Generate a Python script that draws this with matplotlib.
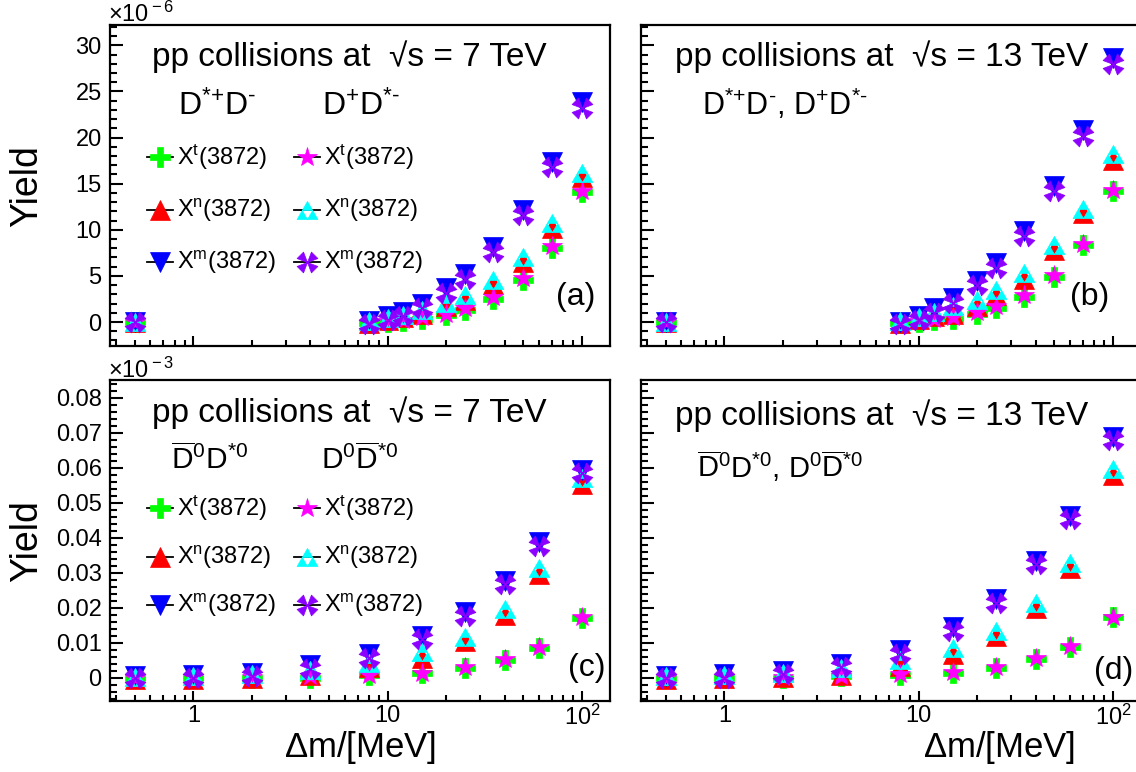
import numpy as np
import matplotlib
matplotlib.use('Agg')
import matplotlib.pyplot as plt
from matplotlib.path import Path
from matplotlib.lines import Line2D
from matplotlib.ticker import FixedLocator, FixedFormatter, NullFormatter, LogLocator, MultipleLocator

plt.rcParams['font.family'] = ['Liberation Sans', 'DejaVu Sans']
plt.rcParams['mathtext.fontset'] = 'custom'
plt.rcParams['mathtext.rm'] = 'Liberation Sans'
plt.rcParams['mathtext.it'] = 'Liberation Sans:italic'
plt.rcParams['mathtext.bf'] = 'Liberation Sans:bold'

# ---------------- data ----------------
x_top = [0.5, 8, 10, 12, 15, 20, 25, 35, 50, 70, 100]
x_bot = [0.5, 1, 2, 4, 8, 15, 25, 40, 60, 100]

# (a) 7 TeV, D*+D- / D+D*-   (units of 1e-6)
a_xt_1 = [0, -0.1, 0.0, 0.1, 0.3, 0.8, 1.3, 2.5, 4.6, 8.0, 14.1]
a_xn_1 = [0, -0.1, 0.2, 0.5, 0.9, 1.7, 2.4, 4.1, 6.5, 10.2, 15.7]
a_xm_1 = [0, 0.1, 0.6, 1.1, 2.0, 3.7, 5.2, 8.1, 12.1, 17.3, 23.8]
a_xt_2 = [0, 0.0, 0.1, 0.2, 0.5, 0.9, 1.5, 2.7, 4.8, 8.2, 14.2]
a_xn_2 = [0, 0.1, 0.4, 0.8, 1.3, 2.1, 2.9, 4.6, 7.0, 10.7, 16.2]
a_xm_2 = [0, -0.2, 0.2, 0.7, 1.5, 3.2, 4.7, 7.6, 11.6, 16.8, 23.2]

# (b) 13 TeV, D*+D- / D+D*-  (units of 1e-6)
b_xt_1 = [0, -0.1, 0.0, 0.2, 0.3, 0.9, 1.5, 2.7, 4.9, 8.3, 14.2]
b_xn_1 = [0, -0.1, 0.3, 0.6, 0.9, 1.7, 2.9, 4.7, 7.8, 11.8, 17.6]
b_xm_1 = [0, 0.0, 0.7, 1.5, 2.6, 4.5, 6.4, 9.9, 14.8, 20.8, 28.6]
b_xt_2 = [0, 0.0, 0.1, 0.3, 0.5, 1.1, 1.7, 2.9, 5.1, 8.5, 14.3]
b_xn_2 = [0, 0.1, 0.5, 1.1, 1.7, 2.4, 3.5, 5.3, 8.3, 12.3, 18.2]
b_xm_2 = [0, -0.2, 0.2, 1.0, 2.1, 4.0, 5.9, 9.3, 14.2, 20.2, 28.0]

# (c) 7 TeV, D0bar D*0 / D0 D*0bar  (units of 1e-3)
c_xt_1 = [0.0, 0.0, -0.0002, 0.0, 0.0006, 0.0012, 0.0027, 0.0050, 0.0085, 0.0170]
c_xn_1 = [-0.0003, -0.0003, 0.0, 0.0008, 0.0030, 0.0055, 0.0103, 0.0180, 0.0297, 0.0553]
c_xm_1 = [0.0005, 0.0008, 0.0014, 0.0035, 0.0066, 0.0119, 0.0186, 0.0277, 0.0386, 0.0592]
c_xt_2 = [0.0, 0.0001, 0.0001, 0.0004, 0.0007, 0.0014, 0.0030, 0.0052, 0.0088, 0.0173]
c_xn_2 = [0.0002, 0.0003, 0.0010, 0.0022, 0.0042, 0.0072, 0.0117, 0.0195, 0.0312, 0.0570]
c_xm_2 = [0.0, 0.0, 0.0005, 0.0025, 0.0056, 0.0109, 0.0176, 0.0267, 0.0376, 0.0584]

# (d) 13 TeV, D0bar D*0 / D0 D*0bar  (units of 1e-3)
d_xt_1 = [0.0, 0.0, 0.0, 0.0003, 0.0008, 0.0013, 0.0028, 0.0053, 0.0088, 0.0172]
d_xn_1 = [-0.0003, -0.0002, 0.0002, 0.0007, 0.0033, 0.0068, 0.0120, 0.0200, 0.0312, 0.0578]
d_xm_1 = [0.0005, 0.0010, 0.0019, 0.0040, 0.0078, 0.0143, 0.0224, 0.0333, 0.0462, 0.0688]
d_xt_2 = [0.0, 0.0001, 0.0001, 0.0004, 0.0009, 0.0015, 0.0030, 0.0055, 0.0091, 0.0174]
d_xn_2 = [0.0003, 0.0006, 0.0014, 0.0028, 0.0050, 0.0083, 0.0134, 0.0214, 0.0328, 0.0596]
d_xm_2 = [0.0, 0.0, 0.0009, 0.0030, 0.0068, 0.0133, 0.0214, 0.0323, 0.0452, 0.0678]

series_labels = [r'X$^{\rm t}$(3872)', r'X$^{\rm n}$(3872)', r'X$^{\rm m}$(3872)']
x_ticklabels = ['1', '10', r'10$^{\rm 2}$']
y_top_ticks = [0, 5, 10, 15, 20, 25, 30]
y_bot_ticks = [0, 0.01, 0.02, 0.03, 0.04, 0.05, 0.06, 0.07, 0.08]

# ---------------- markers ----------------
h = np.sqrt(3) / 2
tri3_verts = [(-1, -h), (0, -h), (-0.5, 0), (-1, -h),
              (0, -h), (1, -h), (0.5, 0), (0, -h),
              (-0.5, 0), (0.5, 0), (0, h), (-0.5, 0)]
tri3_codes = [Path.MOVETO, Path.LINETO, Path.LINETO, Path.CLOSEPOLY] * 3
m_tri3 = Path(tri3_verts, tri3_codes)

fx_verts, fx_codes = [], []
for ang in [45, 135, 225, 315]:
    t = np.deg2rad(ang)
    d = np.array([np.cos(t), np.sin(t)])
    p = np.array([-np.sin(t), np.cos(t)])
    b1 = d * 1.0 + p * 0.45
    b2 = d * 1.0 - p * 0.45
    fx_verts += [(0, 0), tuple(b1), tuple(b2), (0, 0)]
    fx_codes += [Path.MOVETO, Path.LINETO, Path.LINETO, Path.CLOSEPOLY]
m_fourx = Path(fx_verts, fx_codes)

styles_1 = [('P', '#00ff00'), ('^', '#ff0000'), ('v', '#0000ff')]
styles_2 = [('*', '#ff00ff'), (m_tri3, '#00ffff'), (m_fourx, '#8c00ff')]
MS = 15

# ---------------- figure ----------------
W, H = 1136, 772
fig = plt.figure(figsize=(W / 100, H / 100), dpi=100)


def rect(l, t, w, hh):
    return [l / W, 1 - (t + hh) / H, w / W, hh / H]


def fx(px):
    return px / W


def fy(py):
    return 1 - py / H


ax_a = fig.add_axes(rect(110, 25, 500, 321))
ax_b = fig.add_axes(rect(641, 25, 500, 321))
ax_c = fig.add_axes(rect(110, 380, 500, 321))
ax_d = fig.add_axes(rect(641, 380, 500, 321))

panels = [
    (ax_a, x_top, [a_xt_1, a_xn_1, a_xm_1], [a_xt_2, a_xn_2, a_xm_2], True, False, '(a)', 0.970, 0.153),
    (ax_b, x_top, [b_xt_1, b_xn_1, b_xm_1], [b_xt_2, b_xn_2, b_xm_2], True, True, '(b)', 0.936, 0.153),
    (ax_c, x_bot, [c_xt_1, c_xn_1, c_xm_1], [c_xt_2, c_xn_2, c_xm_2], False, False, '(c)', 0.990, 0.103),
    (ax_d, x_bot, [d_xt_1, d_xn_1, d_xm_1], [d_xt_2, d_xn_2, d_xm_2], False, True, '(d)', 0.984, 0.092),
]

for ax, xs, s1, s2, top, right, lab, lx, ly in panels:
    for ys, (mk, col) in zip(s1, styles_1):
        ax.plot(xs, ys, linestyle='none', marker=mk, ms=MS, mfc=col, mec=col, mew=0.5, zorder=3)
    for ys, (mk, col) in zip(s2, styles_2):
        ax.plot(xs, ys, linestyle='none', marker=mk, ms=MS, mfc=col, mec=col, mew=0.5, zorder=4)
    ax.set_xscale('log')
    ax.set_xlim(0.372, 139.4)
    ax.xaxis.set_major_locator(FixedLocator([1, 10, 100]))
    ax.xaxis.set_minor_locator(LogLocator(base=10, subs=np.arange(2, 10)))
    ax.xaxis.set_minor_formatter(NullFormatter())
    if top:
        ax.set_ylim(-2.6, 32.2)
        ax.yaxis.set_major_locator(FixedLocator(y_top_ticks))
        ax.yaxis.set_major_formatter(FixedFormatter([str(v) for v in y_top_ticks]))
        ax.yaxis.set_minor_locator(MultipleLocator(1))
        ax.xaxis.set_major_formatter(NullFormatter())
    else:
        ax.set_ylim(-0.0067, 0.085)
        ax.yaxis.set_major_locator(FixedLocator(y_bot_ticks))
        ax.yaxis.set_major_formatter(FixedFormatter(['0'] + ['%.2f' % v for v in y_bot_ticks[1:]]))
        ax.yaxis.set_minor_locator(MultipleLocator(0.002))
        ax.xaxis.set_major_formatter(FixedFormatter(x_ticklabels))
    if right:
        ax.yaxis.set_major_formatter(NullFormatter())
    ax.tick_params(axis='both', which='both', direction='in', top=False, right=False,
                   width=1.5, labelsize=17, colors='black')
    ax.tick_params(axis='y', which='major', length=9.5, pad=6)
    ax.tick_params(axis='y', which='minor', length=5)
    ax.tick_params(axis='x', which='major', length=7.5, pad=3)
    ax.tick_params(axis='x', which='minor', length=4)
    for sp in ax.spines.values():
        sp.set_linewidth(1.6)
    ax.text(lx, ly, lab, transform=ax.transAxes, fontsize=23, ha='right', va='center')

# axis titles
fig.text(fx(27), fy(186), 'Yield', rotation=90, fontsize=27, ha='center', va='center')
fig.text(fx(27), fy(541), 'Yield', rotation=90, fontsize=27, ha='center', va='center')
fig.text(fx(360), fy(747), r'$\Delta$m/[MeV]', fontsize=25, ha='center', va='center')
fig.text(fx(999), fy(747), r'$\Delta$m/[MeV]', fontsize=25, ha='center', va='center')

# multipliers
fig.text(fx(108), fy(22), r'$\times$10$^{\rm -6}$', fontsize=17, ha='left', va='baseline')
fig.text(fx(108), fy(378), r'$\times$10$^{\rm -3}$', fontsize=17, ha='left', va='baseline')

# headers
HF = 24
fig.text(fx(152), fy(66), 'pp collisions at  \u221as = 7 TeV', fontsize=HF, va='baseline')
fig.text(fx(675), fy(66), 'pp collisions at  \u221as = 13 TeV', fontsize=HF, va='baseline')
fig.text(fx(152), fy(422), 'pp collisions at  \u221as = 7 TeV', fontsize=HF, va='baseline')
fig.text(fx(675), fy(425), 'pp collisions at  \u221as = 13 TeV', fontsize=HF, va='baseline')

fig.text(fx(178), fy(115), r'D$^{\text{*+}}$D$^{\text{-}}$', fontsize=23, va='baseline')
fig.text(fx(322), fy(115), r'D$^{\text{+}}$D$^{\text{*-}}$', fontsize=23, va='baseline')
fig.text(fx(702), fy(115), r'D$^{\text{*+}}$D$^{\text{-}}$, D$^{\text{+}}$D$^{\text{*-}}$', fontsize=22,
         va='baseline')
fig.text(fx(171), fy(470), r'$\overline{\rm D}^{\rm 0}$D$^{\text{*0}}$', fontsize=21.5, va='baseline')
fig.text(fx(321), fy(470), r'D$^{\rm 0}\overline{\rm D}^{\text{*0}}$', fontsize=21.5, va='baseline')
fig.text(fx(697), fy(478), r'$\overline{\rm D}^{\rm 0}$D$^{\text{*0}}$, D$^{\rm 0}\overline{\rm D}^{\text{*0}}$',
         fontsize=21, va='baseline')


def legend_entry(xm, y, mk, col, label):
    fig.add_artist(Line2D([fx(xm - 13), fx(xm + 13)], [fy(y), fy(y)], color='black', lw=1.3,
                          transform=fig.transFigure))
    fig.add_artist(Line2D([fx(xm)], [fy(y)], linestyle='none', marker=mk, ms=MS, mfc=col, mec=col,
                          mew=0.5, transform=fig.transFigure))
    fig.text(fx(xm + 17), fy(y), label, fontsize=17, va='center', ha='left')


rows_a = [157, 210, 262]
rows_c = [508, 557, 605]
for rows in (rows_a, rows_c):
    for y, (mk, col), lab in zip(rows, styles_1, series_labels):
        legend_entry(160, y, mk, col, lab)
    for y, (mk, col), lab in zip(rows, styles_2, series_labels):
        legend_entry(307, y, mk, col, lab)

fig.savefig('out.png', dpi=100)
